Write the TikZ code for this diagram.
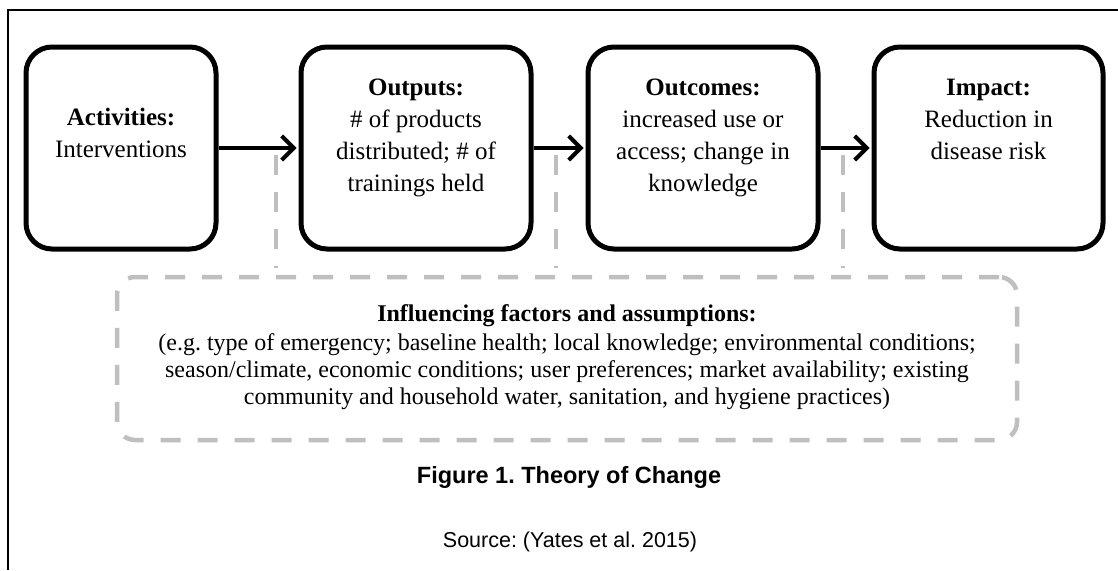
\documentclass[tikz,border=0pt]{standalone}
\usepackage{fontspec}
\setmainfont{Liberation Serif}
\setsansfont{Liberation Sans}
\usetikzlibrary{arrows.meta}
\definecolor{dashgray}{HTML}{BFBFBF}
\frenchspacing
\begin{document}
\begin{tikzpicture}[x=1pt,y=-1pt,
  stagebox/.style={draw=black, line width=5pt, rounded corners=26pt, minimum width=#1, minimum height=202pt, inner sep=0pt, fill=white},
  stagetext/.style={anchor=north, inner sep=0pt, align=center, font=\fontsize{25}{32}\selectfont},
  flow/.style={line width=4pt, -{Straight Barb[length=12pt, width=24pt]}, shorten >=2pt},
  grayline/.style={draw=dashgray, line width=4.5pt, dash pattern=on 20pt off 17pt},
  inflbox/.style={grayline, rounded corners=18pt, minimum width=900pt, minimum height=163pt, inner sep=0pt},
  infltext/.style={anchor=north, inner sep=0pt, align=center, font=\fontsize{24}{27}\selectfont},
]
\useasboundingbox (0,0) rectangle (1118,570);
% outer frame
\draw[line width=1.6pt] (8,570) -- (8,10) -- (1118,10);

% dashed connector lines to the influencing box
\coordinate (d1t) at (276,155); \coordinate (d1b) at (276,268);
\coordinate (d2t) at (556,155); \coordinate (d2b) at (556,268);
\coordinate (d3t) at (843,155); \coordinate (d3b) at (843,268);
\draw[grayline] (d1t) -- (d1b);
\draw[grayline] (d2t) -- (d2b);
\draw[grayline] (d3t) -- (d3b);

% stage boxes
\node[stagebox=190pt] (act) at (121,148) {};
\node[stagebox=230pt] (out) at (416,148) {};
\node[stagebox=230pt] (oc)  at (703,148) {};
\node[stagebox=229pt] (imp) at (988.5,148) {};

\node[stagetext] (actt) at (121,102.6) {\strut\textbf{Activities:}\\Interventions};
\node[stagetext] (outt) at (416,72.6) {\strut\textbf{Outputs:}\\\# of products\\distributed; \# of\\trainings held};
\node[stagetext] (oct)  at (703,72.6) {\strut\textbf{Outcomes:}\\increased use or\\access; change in\\knowledge};
\node[stagetext] (impt) at (988.5,72.6) {\strut\textbf{Impact:}\\Reduction in\\disease risk};

% arrows
\draw[flow] (act.east) -- (out.west);
\draw[flow] (out.east) -- (oc.west);
\draw[flow] (oc.east) -- (imp.west);

% influencing factors box
\node[inflbox] (infl) at (567,358.5) {};
\node[infltext] (inflt) at (567,302.1) {\strut\textbf{Influencing factors and assumptions:}\\[2pt]
(e.g. type of emergency; baseline health; local knowledge; environmental conditions;\\
season/climate, economic conditions; user preferences; market availability; existing\\
community and household water, sanitation, and hygiene practices)};

% caption and source
\node[anchor=base, inner sep=0pt, font=\sffamily\bfseries\fontsize{23.5}{27}\selectfont] (cap) at (569,483) {Figure 1. Theory of Change};
\node[anchor=base, inner sep=0pt, font=\sffamily\fontsize{21.5}{25}\selectfont] (src) at (570,547) {Source: (Yates et al. 2015)};
\end{tikzpicture}
\end{document}
